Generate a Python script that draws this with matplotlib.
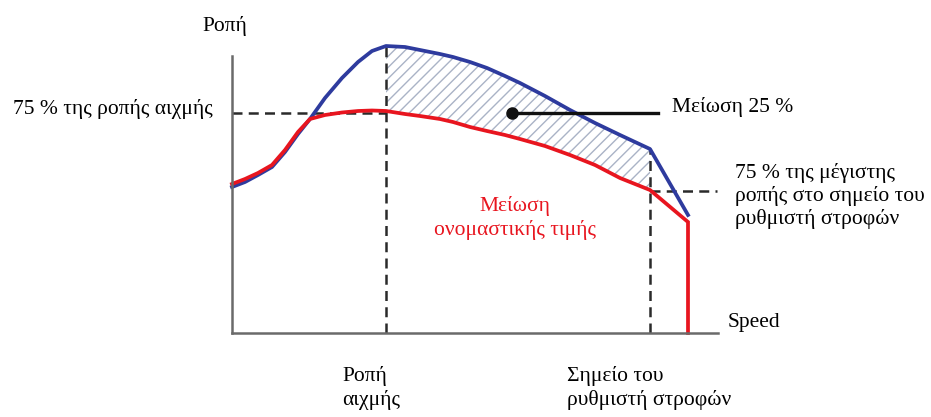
import numpy as np
import matplotlib
matplotlib.use("Agg")
import matplotlib.pyplot as plt

# speed (arbitrary units) and torque values
speed = [0, 13, 26, 40, 53, 66, 78, 93, 110, 126, 140, 154, 173, 188, 208, 221, 238,
         255, 273, 288, 313, 338, 363, 388, 418, 456]
torque_full = [146, 151, 158, 166, 181, 199, 214, 235, 255, 271, 282, 287, 286, 283, 279,
               276, 271, 265, 257, 250, 237, 223, 210, 198, 184, 118]
torque_reduced = [149, 154, 160, 168, 183, 201, 214, 218, 220.5, 222, 222.5, 222, 219, 217,
                  214, 211, 206, 202, 198, 194, 187, 178, 168, 155, 143, 111]

peak_speed = 154
governor_speed = 418
peak_75 = 220
governor_75 = 142
cutoff_speed = 456

fig = plt.figure(figsize=(9.31, 4.17), dpi=100)
ax = fig.add_axes([0, 0, 1, 1])
ax.set_xlim(-232, 699)
ax.set_ylim(-84, 333)

for s in ["top", "right"]:
    ax.spines[s].set_visible(False)
ax.spines["left"].set_position(("data", 0))
ax.spines["bottom"].set_position(("data", 0))
ax.spines["left"].set_bounds(0, 277)
ax.spines["bottom"].set_bounds(0, 486)
for s in ["left", "bottom"]:
    ax.spines[s].set_color("#6a6a6a")
    ax.spines[s].set_linewidth(1.8)
ax.set_xticks([])
ax.set_yticks([])

# hatched area between the two curves
sp = np.array(speed)
mask = (sp >= peak_speed) & (sp <= governor_speed)
ax.fill_between(sp[mask], np.array(torque_reduced)[mask], np.array(torque_full)[mask],
                facecolor="none", edgecolor="#aab3c6", hatch="///", linewidth=0)

# dashed guides
dash = dict(color="#2a2a2a", lw=1.8, ls=(0, (4, 2.5)))
ax.plot([0, peak_speed], [peak_75, peak_75], **dash)
ax.plot([peak_speed, peak_speed], [0, max(torque_full)], **dash)
ax.plot([governor_speed, governor_speed], [0, 184], **dash)
ax.plot([governor_speed, 485], [governor_75, governor_75], **dash)

ax.plot(speed, torque_full, color="#2e3b9e", lw=2.7, solid_joinstyle="round")
ax.plot(speed + [cutoff_speed], torque_reduced + [0], color="#e8151f", lw=2.7,
        solid_joinstyle="miter")

# pointer to the hatched area
ax.plot([280, 426], [220, 220], color="#111111", lw=2.4)
ax.plot([280], [220], "o", color="#111111", ms=8)

font = ["Liberation Serif", "DejaVu Serif"]
fs = 15.5
ax.text(-7, 307, "Ροπή", fontsize=fs, family=font, ha="center", va="center")
ax.text(-19, 224, "75 % της ροπής αιχμής", fontsize=fs, family=font, ha="right", va="center")
ax.text(440, 226, "Μείωση 25 %", fontsize=fs, family=font, ha="left", va="center")
ax.text(503, 137, "75 % της μέγιστης\nροπής στο σημείο του\nρυθμιστή στροφών", fontsize=fs,
        family=font, ha="left", va="center", linespacing=1.18)
ax.text(283, 115, "Μείωση\nονομαστικής τιμής", fontsize=fs, family=font, color="#e8151f",
        ha="center", va="center", linespacing=1.2)
ax.text(496, 11, "Speed", fontsize=fs, family=font, ha="left", va="center")
ax.text(110, -55, "Ροπή\nαιχμής", fontsize=fs, family=font, ha="left", va="center",
        linespacing=1.2)
ax.text(335, -55, "Σημείο του\nρυθμιστή στροφών", fontsize=fs, family=font, ha="left",
        va="center", linespacing=1.2)

fig.savefig("out.png", dpi=100)
